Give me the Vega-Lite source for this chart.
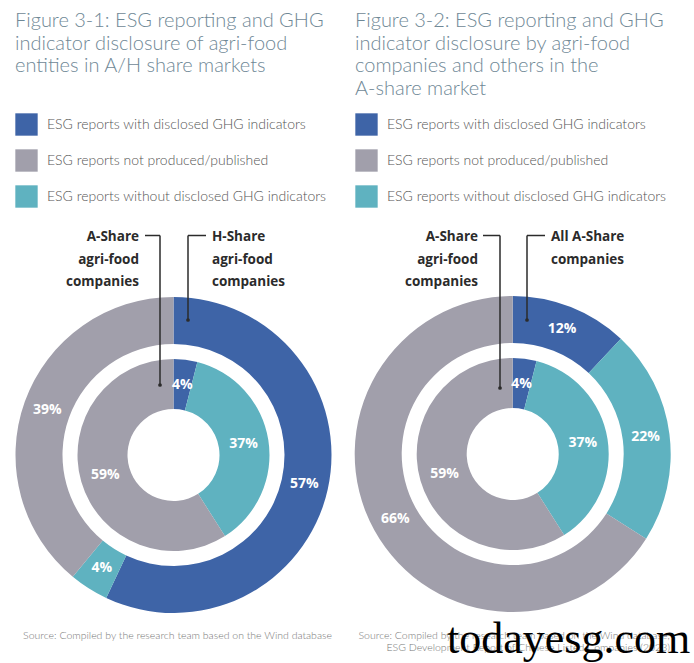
{
  "$schema": "https://vega.github.io/schema/vega-lite/v6.json",
  "width": 694,
  "height": 663,
  "padding": 0,
  "autosize": {"type": "none"},
  "background": "white",
  "config": {"view": {"stroke": null}, "axis": {"disable": true}},
  "datasets": {
    "donut": [
      {"panel": "P1", "ring": "outer", "cat": "ESG reports with disclosed GHG indicators", "order": 1, "value": 57},
      {"panel": "P1", "ring": "outer", "cat": "ESG reports without disclosed GHG indicators", "order": 2, "value": 4},
      {"panel": "P1", "ring": "outer", "cat": "ESG reports not produced/published", "order": 3, "value": 39},
      {"panel": "P1", "ring": "inner", "cat": "ESG reports with disclosed GHG indicators", "order": 1, "value": 4},
      {"panel": "P1", "ring": "inner", "cat": "ESG reports without disclosed GHG indicators", "order": 2, "value": 37},
      {"panel": "P1", "ring": "inner", "cat": "ESG reports not produced/published", "order": 3, "value": 59},
      {"panel": "P2", "ring": "outer", "cat": "ESG reports with disclosed GHG indicators", "order": 1, "value": 12},
      {"panel": "P2", "ring": "outer", "cat": "ESG reports without disclosed GHG indicators", "order": 2, "value": 22},
      {"panel": "P2", "ring": "outer", "cat": "ESG reports not produced/published", "order": 3, "value": 66},
      {"panel": "P2", "ring": "inner", "cat": "ESG reports with disclosed GHG indicators", "order": 1, "value": 4},
      {"panel": "P2", "ring": "inner", "cat": "ESG reports without disclosed GHG indicators", "order": 2, "value": 37},
      {"panel": "P2", "ring": "inner", "cat": "ESG reports not produced/published", "order": 3, "value": 59}
    ],
    "one": [{}]
  },
  "resolve": {"scale": {"color": "independent"}, "legend": {"color": "independent"}},
  "layer": [
    {
      "layer": [
        {
          "data": {"name": "donut"},
          "transform": [
            {"filter": "datum.panel == 'P1' && datum.ring == 'outer'"},
            {"calculate": "datum.value + '%'", "as": "label"}
          ],
          "encoding": {
            "x": {"datum": 173.5, "type": "quantitative", "scale": {"domain": [0, 694], "nice": false, "zero": false}},
            "y": {"datum": 455, "type": "quantitative", "scale": {"domain": [0, 663], "nice": false, "zero": false, "reverse": true}},
            "theta": {"field": "value", "type": "quantitative", "stack": true},
            "order": {"field": "order", "type": "quantitative"},
            "detail": {"field": "cat"}
          },
          "layer": [
            {
              "mark": {"type": "arc", "radius": 158, "radius2": 111},
              "encoding": {
                "color": {
                  "field": "cat", "type": "nominal",
                  "scale": {
                    "domain": ["ESG reports with disclosed GHG indicators", "ESG reports not produced/published", "ESG reports without disclosed GHG indicators"],
                    "range": ["#3e64a7", "#a19fab", "#5fb2c0"]
                  },
                  "legend": {
                    "orient": "none", "legendX": 15, "legendY": 113, "direction": "vertical", "title": null,
                    "symbolType": "square", "symbolSize": 500, "symbolStrokeWidth": 0, "symbolOpacity": 1,
                    "labelFont": "Lato", "labelFontSize": 14, "labelFontWeight": 300, "labelColor": "#555555", "labelOffset": 9,
                    "rowPadding": 13, "padding": 0, "labelLimit": 400
                  }
                }
              }
            },
            {
              "mark": {"type": "text", "radius": 134, "font": "Open Sans", "fontWeight": "bold", "fontSize": 14, "color": "white"},
              "encoding": {"text": {"field": "label"}}
            }
          ]
        },
        {
          "data": {"name": "donut"},
          "transform": [
            {"filter": "datum.panel == 'P1' && datum.ring == 'inner'"},
            {"calculate": "datum.value + '%'", "as": "label"}
          ],
          "encoding": {
            "x": {"datum": 173.5, "type": "quantitative", "scale": {"domain": [0, 694], "nice": false, "zero": false}},
            "y": {"datum": 455, "type": "quantitative", "scale": {"domain": [0, 663], "nice": false, "zero": false, "reverse": true}},
            "theta": {"field": "value", "type": "quantitative", "stack": true},
            "order": {"field": "order", "type": "quantitative"},
            "detail": {"field": "cat"}
          },
          "layer": [
            {
              "mark": {"type": "arc", "radius": 96, "radius2": 46},
              "encoding": {"color": {"field": "cat", "type": "nominal"}}
            },
            {
              "mark": {"type": "text", "radius": 71, "font": "Open Sans", "fontWeight": "bold", "fontSize": 14, "color": "white"},
              "encoding": {"text": {"field": "label"}}
            }
          ]
        },
        {
          "data": {"name": "one"},
          "mark": {"type": "text", "align": "left", "baseline": "alphabetic", "font": "Lato", "fontWeight": 300, "fontSize": 20, "lineHeight": 22.5, "color": "#6f8896"},
          "encoding": {
            "x": {"datum": 15, "type": "quantitative", "scale": {"domain": [0, 694], "nice": false, "zero": false}},
            "y": {"datum": 27, "type": "quantitative", "scale": {"domain": [0, 663], "nice": false, "zero": false, "reverse": true}},
            "text": {"value": ["Figure 3-1: ESG reporting and GHG", "indicator disclosure of agri-food", "entities in A/H share markets"]}
          }
        },
        {
          "data": {"name": "one"},
          "mark": {"type": "text", "align": "right", "baseline": "alphabetic", "font": "Open Sans", "fontWeight": "bold", "fontSize": 13.5, "lineHeight": 22.5, "color": "#2b2b2b"},
          "encoding": {
            "x": {"datum": 139, "type": "quantitative", "scale": {"domain": [0, 694], "nice": false, "zero": false}},
            "y": {"datum": 241, "type": "quantitative", "scale": {"domain": [0, 663], "nice": false, "zero": false, "reverse": true}},
            "text": {"value": ["A-Share", "agri-food", "companies"]}
          }
        },
        {
          "data": {"name": "one"},
          "mark": {"type": "text", "align": "left", "baseline": "alphabetic", "font": "Open Sans", "fontWeight": "bold", "fontSize": 13.5, "lineHeight": 22.5, "color": "#2b2b2b"},
          "encoding": {
            "x": {"datum": 212, "type": "quantitative", "scale": {"domain": [0, 694], "nice": false, "zero": false}},
            "y": {"datum": 241, "type": "quantitative", "scale": {"domain": [0, 663], "nice": false, "zero": false, "reverse": true}},
            "text": {"value": ["H-Share", "agri-food", "companies"]}
          }
        },
        {
          "data": {"name": "one"},
          "mark": {"type": "rule", "color": "#2b2b2b", "strokeWidth": 1.5},
          "encoding": {
            "x": {"datum": 145, "type": "quantitative", "scale": {"domain": [0, 694], "nice": false, "zero": false}},
            "x2": {"datum": 160},
            "y": {"datum": 235.5, "type": "quantitative", "scale": {"domain": [0, 663], "nice": false, "zero": false, "reverse": true}}
          }
        },
        {
          "data": {"name": "one"},
          "mark": {"type": "rule", "color": "#2b2b2b", "strokeWidth": 1.5},
          "encoding": {
            "x": {"datum": 160, "type": "quantitative", "scale": {"domain": [0, 694], "nice": false, "zero": false}},
            "y": {"datum": 235.5, "type": "quantitative", "scale": {"domain": [0, 663], "nice": false, "zero": false, "reverse": true}},
            "y2": {"datum": 385}
          }
        },
        {
          "data": {"name": "one"},
          "mark": {"type": "rule", "color": "#2b2b2b", "strokeWidth": 1.5},
          "encoding": {
            "x": {"datum": 188, "type": "quantitative", "scale": {"domain": [0, 694], "nice": false, "zero": false}},
            "x2": {"datum": 206},
            "y": {"datum": 235.5, "type": "quantitative", "scale": {"domain": [0, 663], "nice": false, "zero": false, "reverse": true}}
          }
        },
        {
          "data": {"name": "one"},
          "mark": {"type": "rule", "color": "#2b2b2b", "strokeWidth": 1.5},
          "encoding": {
            "x": {"datum": 188, "type": "quantitative", "scale": {"domain": [0, 694], "nice": false, "zero": false}},
            "y": {"datum": 235.5, "type": "quantitative", "scale": {"domain": [0, 663], "nice": false, "zero": false, "reverse": true}},
            "y2": {"datum": 320}
          }
        },
        {
          "data": {"name": "one"},
          "mark": {"type": "point", "filled": true, "size": 14, "color": "#2b2b2b", "opacity": 1},
          "encoding": {
            "x": {"datum": 160, "type": "quantitative", "scale": {"domain": [0, 694], "nice": false, "zero": false}},
            "y": {"datum": 385, "type": "quantitative", "scale": {"domain": [0, 663], "nice": false, "zero": false, "reverse": true}}
          }
        },
        {
          "data": {"name": "one"},
          "mark": {"type": "point", "filled": true, "size": 14, "color": "#2b2b2b", "opacity": 1},
          "encoding": {
            "x": {"datum": 188, "type": "quantitative", "scale": {"domain": [0, 694], "nice": false, "zero": false}},
            "y": {"datum": 320, "type": "quantitative", "scale": {"domain": [0, 663], "nice": false, "zero": false, "reverse": true}}
          }
        },
        {
          "data": {"name": "one"},
          "mark": {"type": "text", "align": "center", "baseline": "alphabetic", "font": "Lato", "fontWeight": 300, "fontSize": 10.5, "color": "#777777"},
          "encoding": {
            "x": {"datum": 177.5, "type": "quantitative", "scale": {"domain": [0, 694], "nice": false, "zero": false}},
            "y": {"datum": 639, "type": "quantitative", "scale": {"domain": [0, 663], "nice": false, "zero": false, "reverse": true}},
            "text": {"value": "Source: Compiled by the research team based on the Wind database"}
          }
        }
      ]
    },
    {
      "layer": [
        {
          "data": {"name": "donut"},
          "transform": [
            {"filter": "datum.panel == 'P2' && datum.ring == 'outer'"},
            {"calculate": "datum.value + '%'", "as": "label"}
          ],
          "encoding": {
            "x": {"datum": 512.7, "type": "quantitative", "scale": {"domain": [0, 694], "nice": false, "zero": false}},
            "y": {"datum": 454, "type": "quantitative", "scale": {"domain": [0, 663], "nice": false, "zero": false, "reverse": true}},
            "theta": {"field": "value", "type": "quantitative", "stack": true},
            "order": {"field": "order", "type": "quantitative"},
            "detail": {"field": "cat"}
          },
          "layer": [
            {
              "mark": {"type": "arc", "radius": 158, "radius2": 111},
              "encoding": {
                "color": {
                  "field": "cat", "type": "nominal",
                  "scale": {
                    "domain": ["ESG reports with disclosed GHG indicators", "ESG reports not produced/published", "ESG reports without disclosed GHG indicators"],
                    "range": ["#3e64a7", "#a19fab", "#5fb2c0"]
                  },
                  "legend": {
                    "orient": "none", "legendX": 355, "legendY": 113, "direction": "vertical", "title": null,
                    "symbolType": "square", "symbolSize": 500, "symbolStrokeWidth": 0, "symbolOpacity": 1,
                    "labelFont": "Lato", "labelFontSize": 14, "labelFontWeight": 300, "labelColor": "#555555", "labelOffset": 9,
                    "rowPadding": 13, "padding": 0, "labelLimit": 400
                  }
                }
              }
            },
            {
              "mark": {"type": "text", "radius": 134, "font": "Open Sans", "fontWeight": "bold", "fontSize": 14, "color": "white"},
              "encoding": {"text": {"field": "label"}}
            }
          ]
        },
        {
          "data": {"name": "donut"},
          "transform": [
            {"filter": "datum.panel == 'P2' && datum.ring == 'inner'"},
            {"calculate": "datum.value + '%'", "as": "label"}
          ],
          "encoding": {
            "x": {"datum": 512.7, "type": "quantitative", "scale": {"domain": [0, 694], "nice": false, "zero": false}},
            "y": {"datum": 454, "type": "quantitative", "scale": {"domain": [0, 663], "nice": false, "zero": false, "reverse": true}},
            "theta": {"field": "value", "type": "quantitative", "stack": true},
            "order": {"field": "order", "type": "quantitative"},
            "detail": {"field": "cat"}
          },
          "layer": [
            {
              "mark": {"type": "arc", "radius": 96, "radius2": 46},
              "encoding": {"color": {"field": "cat", "type": "nominal"}}
            },
            {
              "mark": {"type": "text", "radius": 71, "font": "Open Sans", "fontWeight": "bold", "fontSize": 14, "color": "white"},
              "encoding": {"text": {"field": "label"}}
            }
          ]
        },
        {
          "data": {"name": "one"},
          "mark": {"type": "text", "align": "left", "baseline": "alphabetic", "font": "Lato", "fontWeight": 300, "fontSize": 20, "lineHeight": 22.5, "color": "#6f8896"},
          "encoding": {
            "x": {"datum": 355, "type": "quantitative", "scale": {"domain": [0, 694], "nice": false, "zero": false}},
            "y": {"datum": 27, "type": "quantitative", "scale": {"domain": [0, 663], "nice": false, "zero": false, "reverse": true}},
            "text": {"value": ["Figure 3-2: ESG reporting and GHG", "indicator disclosure by agri-food", "companies and others in the", "A-share market"]}
          }
        },
        {
          "data": {"name": "one"},
          "mark": {"type": "text", "align": "right", "baseline": "alphabetic", "font": "Open Sans", "fontWeight": "bold", "fontSize": 13.5, "lineHeight": 22.5, "color": "#2b2b2b"},
          "encoding": {
            "x": {"datum": 478, "type": "quantitative", "scale": {"domain": [0, 694], "nice": false, "zero": false}},
            "y": {"datum": 241, "type": "quantitative", "scale": {"domain": [0, 663], "nice": false, "zero": false, "reverse": true}},
            "text": {"value": ["A-Share", "agri-food", "companies"]}
          }
        },
        {
          "data": {"name": "one"},
          "mark": {"type": "text", "align": "left", "baseline": "alphabetic", "font": "Open Sans", "fontWeight": "bold", "fontSize": 13.5, "lineHeight": 22.5, "color": "#2b2b2b"},
          "encoding": {
            "x": {"datum": 551, "type": "quantitative", "scale": {"domain": [0, 694], "nice": false, "zero": false}},
            "y": {"datum": 241, "type": "quantitative", "scale": {"domain": [0, 663], "nice": false, "zero": false, "reverse": true}},
            "text": {"value": ["All A-Share", "companies"]}
          }
        },
        {
          "data": {"name": "one"},
          "mark": {"type": "rule", "color": "#2b2b2b", "strokeWidth": 1.5},
          "encoding": {
            "x": {"datum": 483, "type": "quantitative", "scale": {"domain": [0, 694], "nice": false, "zero": false}},
            "x2": {"datum": 500},
            "y": {"datum": 235.5, "type": "quantitative", "scale": {"domain": [0, 663], "nice": false, "zero": false, "reverse": true}}
          }
        },
        {
          "data": {"name": "one"},
          "mark": {"type": "rule", "color": "#2b2b2b", "strokeWidth": 1.5},
          "encoding": {
            "x": {"datum": 500, "type": "quantitative", "scale": {"domain": [0, 694], "nice": false, "zero": false}},
            "y": {"datum": 235.5, "type": "quantitative", "scale": {"domain": [0, 663], "nice": false, "zero": false, "reverse": true}},
            "y2": {"datum": 388}
          }
        },
        {
          "data": {"name": "one"},
          "mark": {"type": "rule", "color": "#2b2b2b", "strokeWidth": 1.5},
          "encoding": {
            "x": {"datum": 527, "type": "quantitative", "scale": {"domain": [0, 694], "nice": false, "zero": false}},
            "x2": {"datum": 545},
            "y": {"datum": 235.5, "type": "quantitative", "scale": {"domain": [0, 663], "nice": false, "zero": false, "reverse": true}}
          }
        },
        {
          "data": {"name": "one"},
          "mark": {"type": "rule", "color": "#2b2b2b", "strokeWidth": 1.5},
          "encoding": {
            "x": {"datum": 527, "type": "quantitative", "scale": {"domain": [0, 694], "nice": false, "zero": false}},
            "y": {"datum": 235.5, "type": "quantitative", "scale": {"domain": [0, 663], "nice": false, "zero": false, "reverse": true}},
            "y2": {"datum": 320}
          }
        },
        {
          "data": {"name": "one"},
          "mark": {"type": "point", "filled": true, "size": 14, "color": "#2b2b2b", "opacity": 1},
          "encoding": {
            "x": {"datum": 500, "type": "quantitative", "scale": {"domain": [0, 694], "nice": false, "zero": false}},
            "y": {"datum": 388, "type": "quantitative", "scale": {"domain": [0, 663], "nice": false, "zero": false, "reverse": true}}
          }
        },
        {
          "data": {"name": "one"},
          "mark": {"type": "point", "filled": true, "size": 14, "color": "#2b2b2b", "opacity": 1},
          "encoding": {
            "x": {"datum": 527, "type": "quantitative", "scale": {"domain": [0, 694], "nice": false, "zero": false}},
            "y": {"datum": 320, "type": "quantitative", "scale": {"domain": [0, 663], "nice": false, "zero": false, "reverse": true}}
          }
        },
        {
          "data": {"name": "one"},
          "mark": {"type": "text", "align": "right", "baseline": "alphabetic", "font": "Lato", "fontWeight": 300, "fontSize": 10.5, "lineHeight": 11.5, "color": "#777777"},
          "encoding": {
            "x": {"datum": 670, "type": "quantitative", "scale": {"domain": [0, 694], "nice": false, "zero": false}},
            "y": {"datum": 639, "type": "quantitative", "scale": {"domain": [0, 663], "nice": false, "zero": false, "reverse": true}},
            "text": {"value": ["Source: Compiled by the research team based on the Wind database;", "ESG Development Report of Chinese Listed Companies (2023)"]}
          }
        },
        {
          "data": {"name": "one"},
          "mark": {"type": "text", "align": "left", "baseline": "alphabetic", "font": "Liberation Serif", "fontSize": 44, "color": "#000000"},
          "encoding": {
            "x": {"datum": 447, "type": "quantitative", "scale": {"domain": [0, 694], "nice": false, "zero": false}},
            "y": {"datum": 653, "type": "quantitative", "scale": {"domain": [0, 663], "nice": false, "zero": false, "reverse": true}},
            "text": {"value": "todayesg.com"}
          }
        }
      ]
    }
  ]
}
